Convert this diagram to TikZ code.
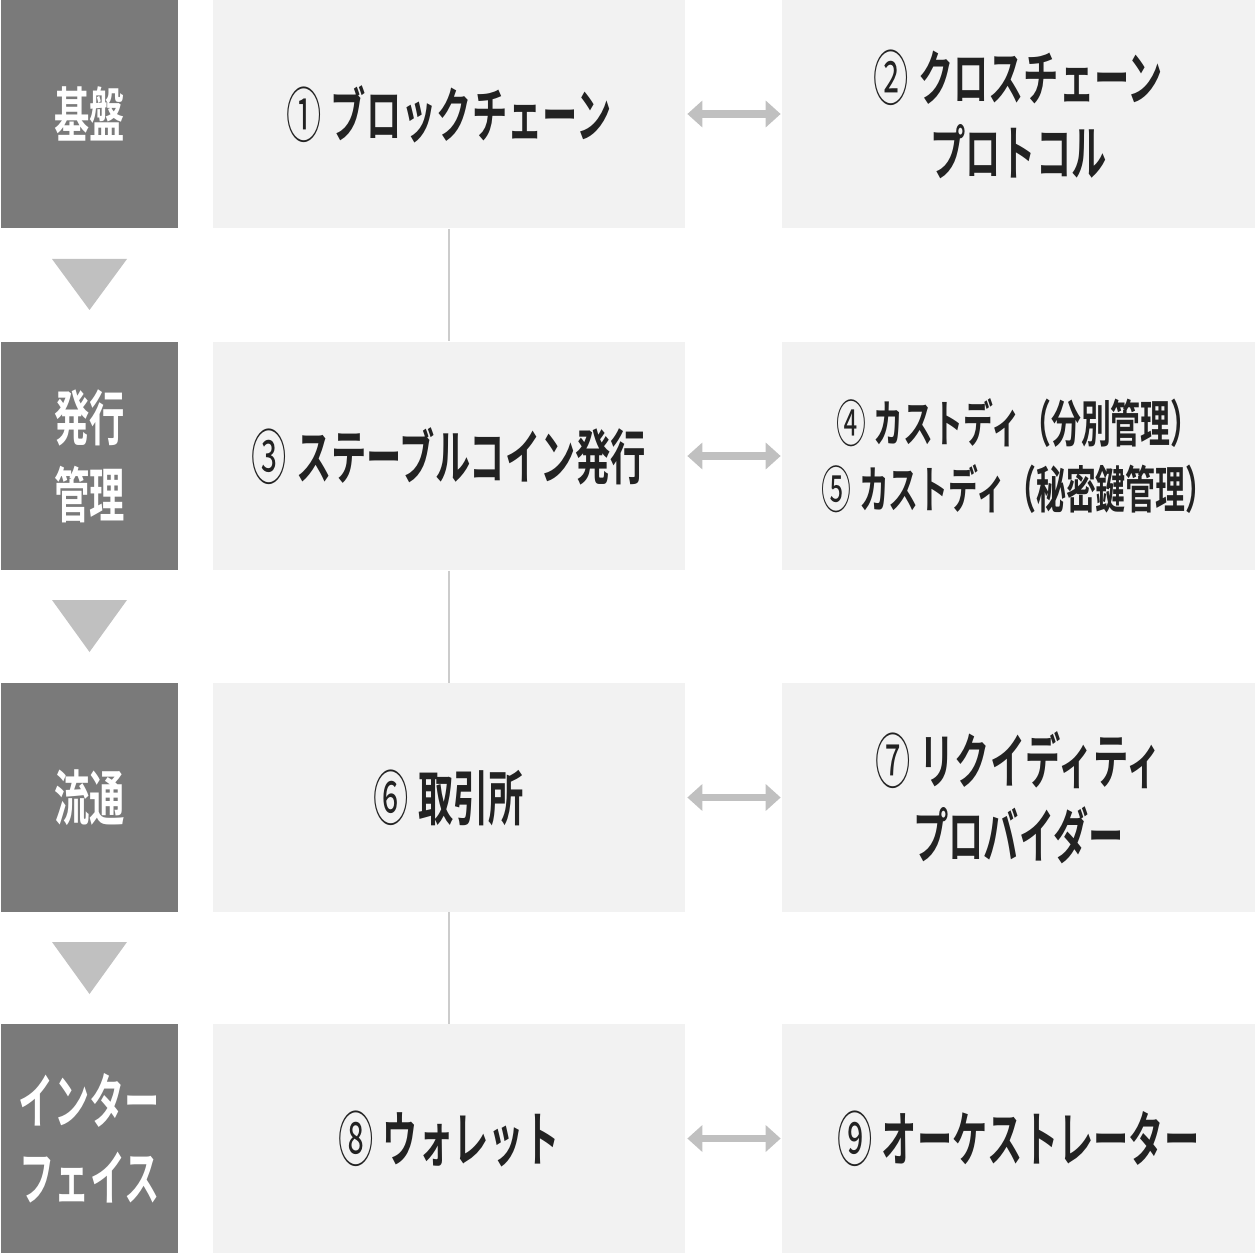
\documentclass[tikz,border=0pt]{standalone}
\usepackage{fontspec}
\newfontfamily\jp[FakeStretch=0.59,BoldFont={Noto Sans CJK JP Bold}]{Noto Sans CJK JP}
\newcommand{\cnum}[1]{{\mdseries #1}\hspace{0.15em}}
\usetikzlibrary{arrows.meta}
\definecolor{darkgr}{HTML}{7A7A7A}
\definecolor{lightgr}{HTML}{F2F2F2}
\definecolor{arrowgr}{HTML}{C0C0C0}
\definecolor{linegr}{HTML}{CCCCCC}
\definecolor{txt}{HTML}{222222}
\begin{document}
\begin{tikzpicture}[x=0.01cm,y=-0.01cm,
  darkbox/.style={fill=darkgr,minimum width=1.77cm,minimum height=2.28cm,inner sep=0pt,text=white,align=center,
    font=\jp\bfseries\fontsize{17}{22}\selectfont},
  midbox/.style={fill=lightgr,minimum width=4.72cm,minimum height=2.28cm,inner sep=0pt,text=txt,align=center,
    font=\jp\bfseries\fontsize{17}{21.3}\selectfont},
  rightbox/.style={fill=lightgr,minimum width=4.73cm,minimum height=2.28cm,inner sep=0pt,text=txt,align=center,
    font=\jp\bfseries\fontsize{17}{21.3}\selectfont},
  smalltext/.style={font=\jp\bfseries\fontsize{14.4}{18.8}\selectfont},
  dblarrow/.style={draw=arrowgr,line width=0.075cm,{Triangle[width=0.26cm,length=0.15cm]}-{Triangle[width=0.26cm,length=0.15cm]},shorten <=0.015cm,shorten >=0.005cm},
  vline/.style={draw=linegr,line width=0.025cm},
  downtri/.style={fill=arrowgr}
]
\useasboundingbox (0,0) rectangle (1255,1255);
% left column
\node[darkbox] (L1) at (89.5,114) {基盤};
\node[darkbox] (L2) at (89.5,456) {発行\\管理};
\node[darkbox] (L3) at (89.5,797.5) {流通};
\node[darkbox] (L4) at (89.5,1138.5) {インター\\フェイス};
% triangles
\fill[downtri] (52,259) -- (127,259) -- (89.5,310) -- cycle;
\fill[downtri] (52,600) -- (127,600) -- (89.5,652) -- cycle;
\fill[downtri] (52,942) -- (127,942) -- (89.5,994) -- cycle;
% middle column
\node[midbox] (M1) at (449,114) {\cnum{①}ブロックチェーン};
\node[midbox] (M2) at (449,456) {\cnum{③}ステーブルコイン発行};
\node[midbox] (M3) at (449,797.5) {\cnum{⑥}取引所};
\node[midbox] (M4) at (449,1138.5) {\cnum{⑧}ウォレット};
% right column
\node[rightbox] (R1) at (1018.5,114) {\cnum{②}クロスチェーン\\プロトコル};
\node[rightbox,smalltext] (R2) at (1018.5,456) {\cnum{④}カストディ（分別管理）\\\cnum{⑤}カストディ（秘密鍵管理）};
\node[rightbox] (R3) at (1018.5,797.5) {\cnum{⑦}リクイディティ\\プロバイダー};
\node[rightbox] (R4) at (1018.5,1138.5) {\cnum{⑨}オーケストレーター};
% connectors
\draw[dblarrow] (M1.east) -- (R1.west);
\draw[dblarrow] (M2.east) -- (R2.west);
\draw[dblarrow] (M3.east) -- (R3.west);
\draw[dblarrow] (M4.east) -- (R4.west);
\draw[vline] (M1.south) -- (M2.north);
\draw[vline] (M2.south) -- (M3.north);
\draw[vline] (M3.south) -- (M4.north);
\end{tikzpicture}
\end{document}
